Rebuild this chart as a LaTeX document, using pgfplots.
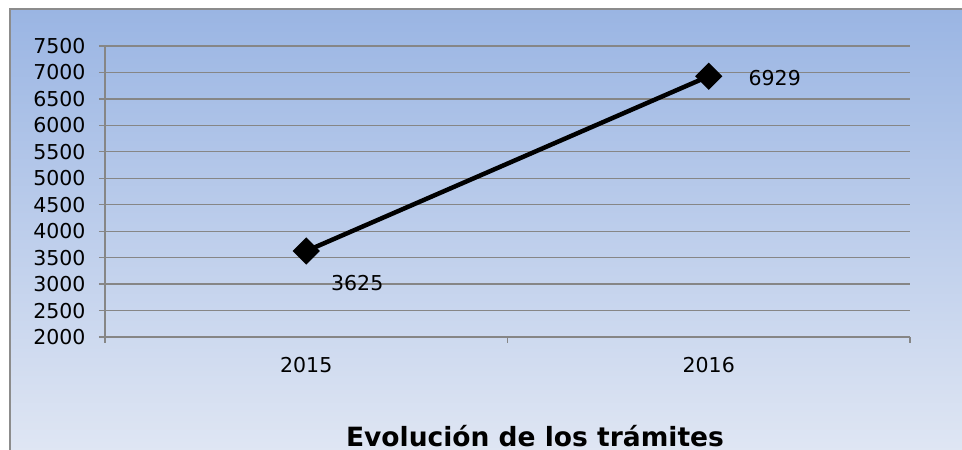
\documentclass[border=0pt]{standalone}
\usepackage{fontspec}
\setmainfont{DejaVu Sans}
\usepackage{pgfplots}
\pgfplotsset{compat=1.18}
\definecolor{gridgray}{HTML}{868686}
\definecolor{bgtop}{HTML}{9AB5E3}
\definecolor{bgbot}{HTML}{E2E8F4}
\begin{document}
\begin{tikzpicture}[x=1pt,y=1pt]
\useasboundingbox (0,0) rectangle (962,450);
\shade[top color=bgtop, bottom color=bgbot] (10,-20) rectangle (980,441);
\draw[draw=gray!90, line width=1.5pt] (10,-20) -- (10,441) -- (980,441);
\begin{axis}[
  at={(105pt,113pt)}, anchor=south west,
  scale only axis, width=805pt, height=291pt,
  xmin=-0.5, xmax=1.5, ymin=2000, ymax=7500,
  ytick={2000,2500,...,7500},
  xtick={-0.5,0.5,1.5}, xticklabels={},
  extra x ticks={0,1}, extra x tick labels={2015,2016},
  extra x tick style={major tick length=0pt, grid=none, xticklabel style={yshift=-17pt}},
  axis x line*=bottom, axis y line*=left,
  axis line style={draw=gridgray, line width=1.3pt, -},
  ymajorgrids, grid style={draw=gridgray, line width=1.3pt},
  tick style={draw=gridgray, line width=1.3pt},
  tick align=outside, major tick length=6pt,
  /pgf/number format/assume math mode=true,
  /pgf/number format/set thousands separator={},
  tick label style={font=\fontsize{20.5}{24}\selectfont, text=black},
  yticklabel style={xshift=-10pt},
  clip=false,
]
\addplot[black, line width=4.5pt, mark=square*, mark size=7.4pt, mark options={rotate=45, solid, fill=black}]
  coordinates {(0,3625) (1,6929)};
\node[font=\fontsize{20.5}{24}\selectfont] at (axis cs:0,3625) [xshift=51pt, yshift=-32pt] {3625};
\node[font=\fontsize{20.5}{24}\selectfont] at (axis cs:1,6929) [xshift=66pt, yshift=-2pt] {6929};
\end{axis}
\node[font=\bfseries\fontsize{26.5}{30}\selectfont, anchor=base, inner sep=0pt] at (535,3) {Evolución de los trámites};
\end{tikzpicture}
\end{document}
